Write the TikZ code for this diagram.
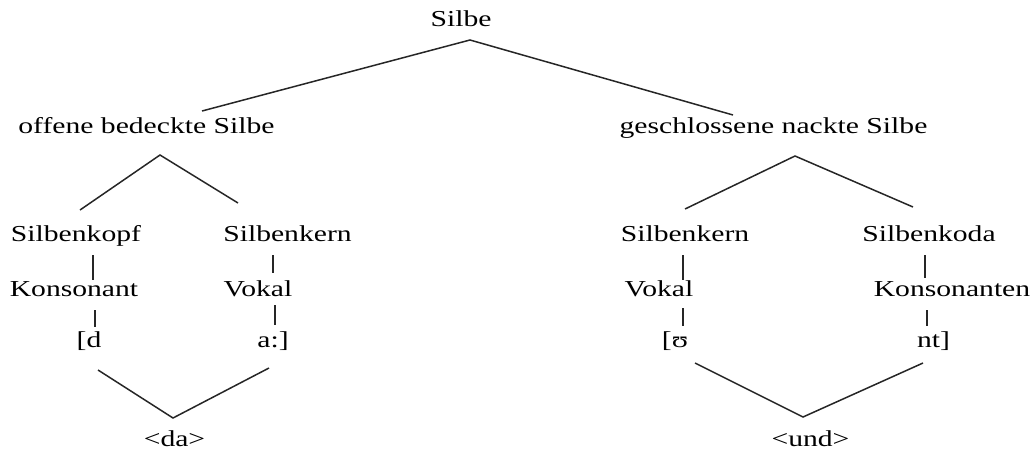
\documentclass[tikz,border=0pt]{standalone}
\usepackage{fontspec}
\setmainfont{Liberation Serif}[FakeStretch=1.3]
\begin{document}
\begin{tikzpicture}[x=0.5pt,y=-0.5pt,
  lbl/.style={anchor=base,inner sep=0pt,font=\fontsize{11.4}{14}\selectfont},
  edge/.style={draw=black!85,line width=0.75pt}]
\useasboundingbox (0,0) rectangle (1032,450);
% text nodes
\node[lbl] (silbe) at (461,26.5) {Silbe};
\node[lbl] (offen) at (146.5,133) {offene bedeckte Silbe};
\node[lbl] (geschl) at (773.5,133) {geschlossene nackte Silbe};
\node[lbl] (kopf) at (76,241) {Silbenkopf};
\node[lbl] (kernA) at (287.5,241) {Silbenkern};
\node[lbl] (konsA) at (74,296.5) {Konsonant};
\node[lbl] (vokA) at (258,296.5) {Vokal};
\node[lbl] (d) at (89,347) {[d};
\node[lbl] (a) at (273,347) {a:]};
\node[lbl] (da) at (174.5,446) {<da>};
\node[lbl] (kernB) at (685,241) {Silbenkern};
\node[lbl] (koda) at (929,241) {Silbenkoda};
\node[lbl] (vokB) at (659,296.5) {Vokal};
\node[lbl] (konsB) at (952,296.5) {Konsonanten};
\node[lbl] (u) at (675,347) {[ʊ};
\node[lbl] (nt) at (933.5,347) {nt]};
\node[lbl] (und) at (810.5,446) {<und>};
% connector points
\coordinate (top) at (470,40);
\coordinate (topL) at (202,111);
\coordinate (topR) at (733,115);
\coordinate (apL) at (160,155);
\coordinate (apLl) at (80,210);
\coordinate (apLr) at (238,203);
\coordinate (apR) at (795,156);
\coordinate (apRl) at (685,209);
\coordinate (apRr) at (913,207);
\coordinate (k1a) at (93,255); \coordinate (k1b) at (93,280);
\coordinate (k2a) at (95,310); \coordinate (k2b) at (95,327);
\coordinate (v1a) at (273,255); \coordinate (v1b) at (273,273);
\coordinate (v2a) at (275,305); \coordinate (v2b) at (275,325);
\coordinate (daL) at (98,370); \coordinate (daV) at (173,418); \coordinate (daR) at (269,368);
\coordinate (n1a) at (683,255); \coordinate (n1b) at (683,280);
\coordinate (n2a) at (683,308); \coordinate (n2b) at (683,326);
\coordinate (c1a) at (925,255); \coordinate (c1b) at (925,278);
\coordinate (c2a) at (927,310); \coordinate (c2b) at (927,326);
\coordinate (unL) at (695,363); \coordinate (unV) at (803,417); \coordinate (unR) at (923,363);
% connectors
\draw[edge] (topL) -- (top) -- (topR);
\draw[edge] (apLl) -- (apL) -- (apLr);
\draw[edge] (apRl) -- (apR) -- (apRr);
\draw[edge] (k1a) -- (k1b);
\draw[edge] (k2a) -- (k2b);
\draw[edge] (v1a) -- (v1b);
\draw[edge] (v2a) -- (v2b);
\draw[edge] (daL) -- (daV) -- (daR);
\draw[edge] (n1a) -- (n1b);
\draw[edge] (n2a) -- (n2b);
\draw[edge] (c1a) -- (c1b);
\draw[edge] (c2a) -- (c2b);
\draw[edge] (unL) -- (unV) -- (unR);
\end{tikzpicture}
\end{document}
